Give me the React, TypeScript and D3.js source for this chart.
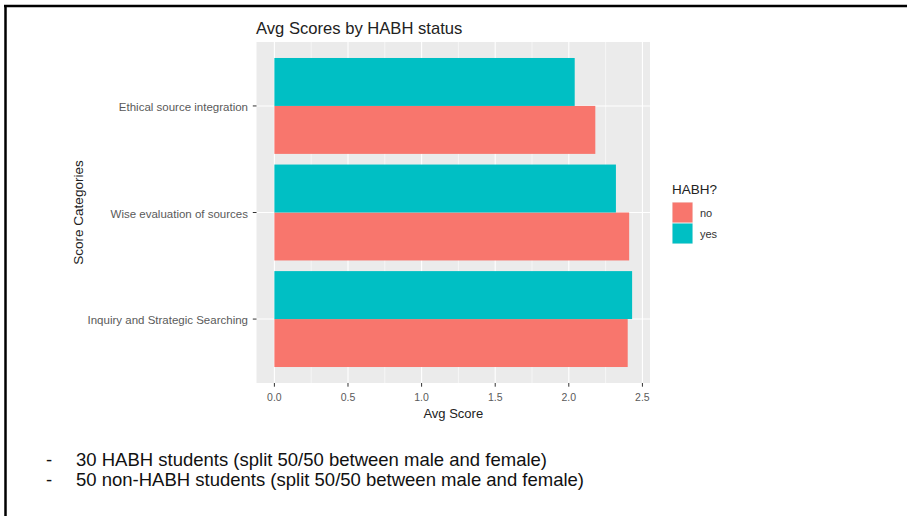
import { useEffect, useRef } from 'react';
import * as d3 from 'd3';

const categories = ['Inquiry and Strategic Searching', 'Wise evaluation of sources', 'Ethical source integration'];
const groups = ['no', 'yes'];
const noScores = [2.40, 2.41, 2.18];
const yesScores = [2.43, 2.32, 2.04];
const xTicks = [0, 0.5, 1, 1.5, 2, 2.5];
const notes = [
  '30 HABH students (split 50/50 between male and female)',
  '50 non-HABH students (split 50/50 between male and female)',
];

const colors: Record<string, string> = { no: '#F8766D', yes: '#00BFC4' };
const FONT = '"Liberation Sans", Arial, sans-serif';

export default function App() {
  const svgRef = useRef<SVGSVGElement>(null);

  useEffect(() => {
    if (!svgRef.current) return;
    const svg = d3.select(svgRef.current);
    svg.selectAll('*').remove();

    const width = 907;
    const height = 516;
    svg.append('rect').attr('width', width).attr('height', height).attr('fill', '#fff');

    // page frame (top + left edges only)
    svg.append('line').attr('x1', 4).attr('x2', width).attr('y1', 6).attr('y2', 6)
      .attr('stroke', '#000').attr('stroke-width', 2.5);
    svg.append('line').attr('x1', 5.5).attr('x2', 5.5).attr('y1', 5).attr('y2', height)
      .attr('stroke', '#000').attr('stroke-width', 2.5);

    const panel = { left: 256.5, right: 650, top: 42, bottom: 383 };

    const rows = categories.map((c, i) => ({ cat: c, no: noScores[i], yes: yesScores[i] }));
    const maxVal = d3.max(rows, d => Math.max(d.no, d.yes)) as number;
    const pad = maxVal * 0.05;

    const x = d3.scaleLinear()
      .domain([-pad, maxVal + pad])
      .range([panel.left, panel.right]);

    // first category sits at the bottom like ggplot
    const y = d3.scalePoint<string>()
      .domain([...categories].reverse())
      .range([panel.top, panel.bottom])
      .padding(0.6);
    const step = y.step();
    const bandH = step * 0.9;

    const yInner = d3.scaleBand<string>()
      .domain(['yes', 'no'])
      .range([-bandH / 2, bandH / 2]);

    svg.append('rect')
      .attr('x', panel.left).attr('y', panel.top)
      .attr('width', panel.right - panel.left).attr('height', panel.bottom - panel.top)
      .attr('fill', '#EBEBEB');

    // minor grid
    const minor = d3.range(0.25, 2.5, 0.5);
    svg.append('g').selectAll('line').data(minor).join('line')
      .attr('x1', d => x(d)).attr('x2', d => x(d))
      .attr('y1', panel.top).attr('y2', panel.bottom)
      .attr('stroke', '#fff').attr('stroke-width', 0.55);

    // major grid
    svg.append('g').selectAll('line').data(xTicks).join('line')
      .attr('x1', d => x(d)).attr('x2', d => x(d))
      .attr('y1', panel.top).attr('y2', panel.bottom)
      .attr('stroke', '#fff').attr('stroke-width', 1.1);
    svg.append('g').selectAll('line').data(categories).join('line')
      .attr('x1', panel.left).attr('x2', panel.right)
      .attr('y1', d => y(d) as number).attr('y2', d => y(d) as number)
      .attr('stroke', '#fff').attr('stroke-width', 1.1);

    // bars
    const barG = svg.append('g');
    rows.forEach(r => {
      groups.forEach(g => {
        const v = g === 'no' ? r.no : r.yes;
        barG.append('rect')
          .attr('x', x(0))
          .attr('y', (y(r.cat) as number) + (yInner(g) as number))
          .attr('width', x(v) - x(0))
          .attr('height', yInner.bandwidth())
          .attr('fill', colors[g]);
      });
    });

    // x axis
    const xAxis = svg.append('g');
    xAxis.selectAll('line').data(xTicks).join('line')
      .attr('x1', d => x(d)).attr('x2', d => x(d))
      .attr('y1', panel.bottom).attr('y2', panel.bottom + 3.7)
      .attr('stroke', '#333').attr('stroke-width', 1);
    xAxis.selectAll('text').data(xTicks).join('text')
      .attr('x', d => x(d)).attr('y', panel.bottom + 18)
      .attr('text-anchor', 'middle')
      .attr('font-family', FONT).attr('font-size', 10.5)
      .attr('fill', '#5a5a5a')
      .text(d => d3.format('.1f')(d));

    // y axis
    const yAxis = svg.append('g');
    yAxis.selectAll('line').data(categories).join('line')
      .attr('x1', panel.left - 3.7).attr('x2', panel.left)
      .attr('y1', d => y(d) as number).attr('y2', d => y(d) as number)
      .attr('stroke', '#333').attr('stroke-width', 1);
    yAxis.selectAll('text').data(categories).join('text')
      .attr('x', panel.left - 8.5).attr('y', d => (y(d) as number) + 5)
      .attr('text-anchor', 'end')
      .attr('font-family', FONT).attr('font-size', 11.5)
      .attr('fill', '#5a5a5a')
      .text(d => d);

    // titles
    svg.append('text')
      .attr('x', 256).attr('y', 34)
      .attr('font-family', FONT).attr('font-size', 16.6)
      .attr('fill', '#222')
      .text('Avg Scores by HABH status');

    svg.append('text')
      .attr('x', (panel.left + panel.right) / 2).attr('y', 418)
      .attr('text-anchor', 'middle')
      .attr('font-family', FONT).attr('font-size', 13)
      .attr('fill', '#222')
      .text('Avg Score');

    svg.append('text')
      .attr('transform', `translate(83, ${(panel.top + panel.bottom) / 2}) rotate(-90)`)
      .attr('text-anchor', 'middle')
      .attr('font-family', FONT).attr('font-size', 13.5)
      .attr('fill', '#222')
      .text('Score Categories');

    // legend
    const legend = svg.append('g').attr('transform', 'translate(672, 0)');
    legend.append('text')
      .attr('x', 0).attr('y', 194)
      .attr('font-family', FONT).attr('font-size', 13.5)
      .attr('fill', '#222')
      .text('HABH?');
    const keySize = 21;
    groups.forEach((g, i) => {
      const ky = 202 + i * keySize;
      legend.append('rect')
        .attr('x', 0).attr('y', ky).attr('width', keySize).attr('height', keySize)
        .attr('fill', '#F2F2F2');
      legend.append('rect')
        .attr('x', 0.5).attr('y', ky + 0.5).attr('width', keySize - 1).attr('height', keySize - 1)
        .attr('fill', colors[g]);
      legend.append('text')
        .attr('x', keySize + 7).attr('y', ky + keySize / 2 + 4)
        .attr('font-family', FONT).attr('font-size', 11)
        .attr('fill', '#333')
        .text(g);
    });

    // notes below chart
    const noteG = svg.append('g');
    notes.forEach((n, i) => {
      const by = 466 + i * 20;
      noteG.append('text')
        .attr('x', 46).attr('y', by)
        .attr('font-family', FONT).attr('font-size', 18.5)
        .attr('fill', '#111')
        .text('-');
      noteG.append('text')
        .attr('x', 76).attr('y', by)
        .attr('font-family', FONT).attr('font-size', 18.5)
        .attr('fill', '#111')
        .text(n);
    });
  }, []);

  return (
    <svg
      ref={svgRef}
      width={907}
      height={516}
      style={{ position: 'absolute', left: 0, top: 0, display: 'block' }}
    />
  );
}
